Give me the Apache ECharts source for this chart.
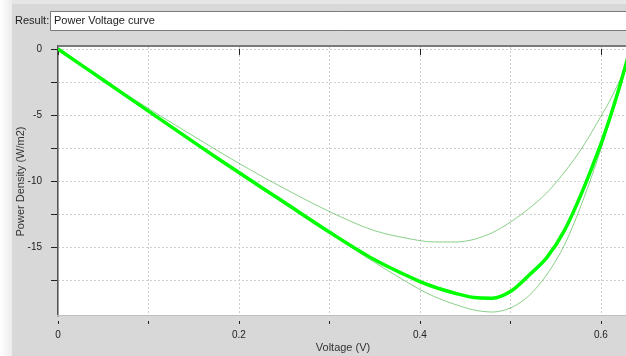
<!DOCTYPE html>
<html>
<head>
<meta charset="utf-8">
<script src="https://cdn.jsdelivr.net/npm/echarts@6/dist/echarts.min.js"></script>
<style>
  html, body { margin: 0; padding: 0; background: #d8d8d8; }
  #chart { width: 626px; height: 356px; }
</style>
</head>
<body>
<div id="chart"></div>
<script>
// voltage samples (V)
const voltage = [0, 0.05, 0.1, 0.15, 0.2, 0.25, 0.3, 0.35, 0.4, 0.42, 0.44, 0.46, 0.48, 0.5, 0.52, 0.54, 0.56, 0.58, 0.6, 0.61, 0.62, 0.63]
// main curve (thick)
const powerMain = [0, -2.35, -4.7, -7.05, -9.35, -11.6, -13.85, -15.95, -17.6, -18.1, -18.5, -18.8, -18.85, -18.35, -17.15, -15.8, -13.7, -10.7, -7.2, -5.2, -3.0, -0.6]
// thin bounds
const powerUpper = [0, -2.3, -4.5, -6.6, -8.65, -10.55, -12.3, -13.75, -14.5, -14.6, -14.6, -14.4, -13.9, -13.1, -12.1, -10.9, -9.3, -7.4, -5.1, -3.9, -2.5, -1.0]
const powerLower = [0, -2.35, -4.72, -7.1, -9.45, -11.7, -13.95, -16.15, -18.2, -18.85, -19.35, -19.75, -19.9, -19.6, -18.7, -17.1, -14.8, -11.5, -7.6, -5.4, -3.1, -0.7]
const yTicks = [0, -2.5, -5, -7.5, -10, -12.5, -15, -17.5]
const yLabels = [0, -5, -10, -15]

const pairs = arr => voltage.map((v, i) => [v, arr[i]])

const myChart = echarts.init(document.getElementById('chart'))
const font = 'Liberation Sans, Arial, sans-serif'
const option = {
  backgroundColor: '#d8d8d8',
  animation: false,
  grid: {
    left: 58,
    top: 47,
    right: -2,
    bottom: 40,
    containLabel: false,
    outerBoundsMode: 'none',
    show: true,
    backgroundColor: '#ffffff',
    borderWidth: 0
  },
  xAxis: [
    {
      type: 'value',
      position: 'bottom',
      min: 0,
      max: 0.63,
      interval: 0.2,
      offset: 5,
      axisLine: { show: false },
      axisTick: { show: true, length: 6, lineStyle: { color: '#222' } },
      axisLabel: {
        showMaxLabel: false,
        margin: 9,
        fontSize: 10,
        color: '#222',
        fontFamily: font
      },
      splitLine: { show: false },
      name: 'Voltage (V)',
      nameLocation: 'middle',
      nameGap: 21,
      nameMoveOverlap: false,
      nameTextStyle: { fontSize: 11, color: '#333', fontFamily: font }
    },
    {
      type: 'value',
      position: 'bottom',
      min: 0,
      max: 0.63,
      interval: 0.1,
      offset: 5,
      axisLine: { show: false },
      axisTick: { show: true, length: 3, lineStyle: { color: '#222' } },
      axisLabel: { show: false },
      splitLine: { show: true, lineStyle: { color: '#cfcfcf', type: [2, 2], width: 1 } }
    }
  ],
  yAxis: {
    type: 'value',
    min: -20.2,
    max: 0.15,
    offset: 4,
    axisLine: { show: true, lineStyle: { color: '#999', width: 2 } },
    axisTick: { show: true, length: 7, customValues: yTicks, lineStyle: { color: '#222' } },
    axisLabel: {
      customValues: yLabels,
      margin: 12,
      fontSize: 10,
      color: '#222',
      fontFamily: font
    },
    splitLine: { show: true, lineStyle: { color: '#cfcfcf', type: [2, 2], width: 1 } },
    name: 'Power Density (W/m2)',
    nameLocation: 'middle',
    nameGap: 28,
    nameMoveOverlap: false,
    nameTextStyle: { fontSize: 11, color: '#333', fontFamily: font }
  },
  series: [
    {
      name: 'upper',
      type: 'line',
      smooth: 0.3,
      showSymbol: false,
      data: pairs(powerUpper),
      lineStyle: { color: 'rgba(40,170,40,0.55)', width: 1 }
    },
    {
      name: 'lower',
      type: 'line',
      smooth: 0.3,
      showSymbol: false,
      data: pairs(powerLower),
      lineStyle: { color: 'rgba(40,170,40,0.55)', width: 1 }
    },
    {
      name: 'main',
      type: 'line',
      smooth: 0.3,
      showSymbol: false,
      data: pairs(powerMain),
      lineStyle: { color: '#00ff00', width: 3.5 }
    }
  ],
  graphic: [
    // window strips
    { type: 'rect', left: 0, top: 0, shape: { width: 626, height: 4 }, style: { fill: '#e6e6e6' }, z: -1 },
    { type: 'rect', left: 0, top: 0, shape: { width: 12, height: 356 }, style: { fill: new echarts.graphic.LinearGradient(0, 0, 1, 0, [{ offset: 0, color: '#ffffff' }, { offset: 1, color: '#ececec' }]) }, z: -1 },
    // result box
    { type: 'text', left: 15, top: 15, style: { text: 'Result:', fontSize: 11, fill: '#222', fontFamily: font }, z: 2 },
    { type: 'rect', left: 50, top: 11, shape: { width: 580, height: 19 }, style: { fill: '#ffffff', stroke: '#7a7a7a', lineWidth: 1 }, z: 2 },
    { type: 'text', left: 54, top: 15, style: { text: 'Power Voltage curve', fontSize: 11, fill: '#222', fontFamily: font }, z: 3 },
    // plot frame
    { type: 'rect', left: 57, top: 45, shape: { width: 570, height: 2 }, style: { fill: '#7a7a7a' }, z: 10 },
    { type: 'rect', left: 57, top: 45, shape: { width: 1, height: 271 }, style: { fill: '#555555' }, z: 10 },
    { type: 'rect', left: 57, top: 315, shape: { width: 570, height: 1 }, style: { fill: '#bdbdbd' }, z: 10 }
  ]
}
myChart.setOption(option)
</script>
</body>
</html>
